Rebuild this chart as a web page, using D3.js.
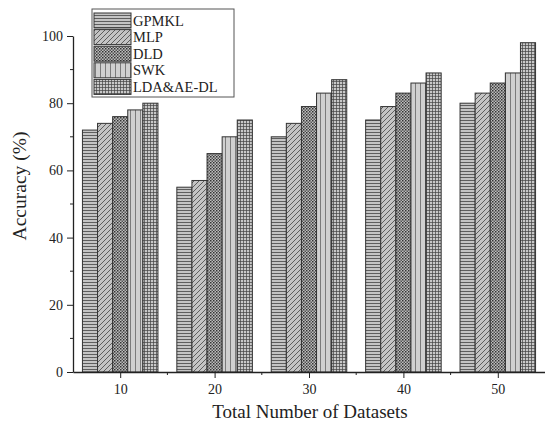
<!DOCTYPE html>
<html>
<head>
<meta charset="utf-8">
<script src="https://cdn.jsdelivr.net/npm/d3@7"></script>
<style>
  body { margin: 0; background: #fff; }
  text { font-family: "Liberation Serif", "DejaVu Serif", serif; fill: #222; }
</style>
</head>
<body>
<div id="chart"></div>
<script>
// Data
const datasets = [10, 20, 30, 40, 50];
const series = ['GPMKL', 'MLP', 'DLD', 'SWK', 'LDA&AE-DL'];
const gpmkl = [72, 55, 70, 75, 80];
const mlp = [74, 57, 74, 79, 83];
const dld = [76, 65, 79, 83, 86];
const swk = [78, 70, 83, 86, 89];
const ldaae = [80, 75, 87, 89, 98];
const values = [gpmkl, mlp, dld, swk, ldaae];
const yTicks = [0, 20, 40, 60, 80, 100];

const W = 545, H = 426;
const margin = { top: 36, right: 0, bottom: 54, left: 73 };

const svg = d3.select('#chart')
  .append('svg')
  .attr('width', W)
  .attr('height', H);

// hatch patterns
const defs = svg.append('defs');
const bg = '#c4c4c4';
const ink = '#444';

function pattern(id, w, h, draw, fill) {
  const p = defs.append('pattern')
    .attr('id', id)
    .attr('patternUnits', 'userSpaceOnUse')
    .attr('width', w)
    .attr('height', h);
  p.append('rect').attr('width', w).attr('height', h).attr('fill', fill || bg);
  draw(p);
}

pattern('p0', 4, 3, p => {
  p.append('line').attr('x1', 0).attr('x2', 4).attr('y1', 0.5).attr('y2', 0.5)
    .attr('stroke', ink).attr('stroke-width', 0.8);
});
pattern('p1', 5, 5, p => {
  p.append('path').attr('d', 'M0,5 L5,0 M-1,1 L1,-1 M4,6 L6,4')
    .attr('stroke', ink).attr('stroke-width', 0.8);
});
pattern('p2', 3, 3, p => {
  p.append('rect').attr('x', 0).attr('y', 0).attr('width', 1.5).attr('height', 1.5).attr('fill', '#333');
  p.append('rect').attr('x', 1.5).attr('y', 1.5).attr('width', 1.5).attr('height', 1.5).attr('fill', '#555');
}, '#bdbdbd');
pattern('p3', 5, 4, p => {
  p.append('line').attr('x1', 0.5).attr('x2', 0.5).attr('y1', 0).attr('y2', 4)
    .attr('stroke', '#666').attr('stroke-width', 0.8);
}, '#d0d0d0');
pattern('p4', 3, 3, p => {
  p.append('path').attr('d', 'M0,0.5 H3 M0.5,0 V3')
    .attr('stroke', ink).attr('stroke-width', 0.7);
}, '#c8c8c8');

const x = d3.scaleLinear()
  .domain([5, 55])
  .range([margin.left, W - margin.right]);

const y = d3.scaleLinear()
  .domain([0, 100])
  .range([372, 36]);

const step = x(20) - x(10);
const inner = d3.scaleBand()
  .domain(series)
  .range([-step * 0.4, step * 0.4]);

// bars
series.forEach((s, i) => {
  svg.append('g')
    .selectAll('rect')
    .data(datasets)
    .enter()
    .append('rect')
    .attr('x', (d) => x(d) + inner(s))
    .attr('width', inner.bandwidth())
    .attr('y', (d, j) => y(values[i][j]))
    .attr('height', (d, j) => y(0) - y(values[i][j]))
    .attr('fill', `url(#p${i})`)
    .attr('stroke', '#333')
    .attr('stroke-width', 1);
});

// x axis
const xAxis = svg.append('g')
  .attr('transform', `translate(0,${y(0)})`)
  .call(d3.axisBottom(x).tickValues(datasets).tickSize(6).tickPadding(6).tickSizeOuter(0));
xAxis.append('g')
  .selectAll('line')
  .data([15, 25, 35, 45])
  .enter()
  .append('line')
  .attr('x1', d => x(d)).attr('x2', d => x(d))
  .attr('y1', 0).attr('y2', 3)
  .attr('stroke', '#222');

// y axis
const yAxis = svg.append('g')
  .attr('transform', `translate(${margin.left},0)`)
  .call(d3.axisLeft(y).tickValues(yTicks).tickSize(6).tickPadding(4).tickSizeOuter(0));
yAxis.append('g')
  .selectAll('line')
  .data([10, 30, 50, 70, 90])
  .enter()
  .append('line')
  .attr('x1', 0).attr('x2', -3)
  .attr('y1', d => y(d)).attr('y2', d => y(d))
  .attr('stroke', '#222');

svg.selectAll('.domain').attr('stroke', '#222').attr('stroke-width', 1.3);
svg.selectAll('.tick line').attr('stroke', '#222');
svg.selectAll('.tick text')
  .style('font-family', '"Liberation Serif", serif')
  .style('font-size', '14px')
  .attr('fill', '#333');

// axis titles
svg.append('text')
  .attr('x', 310)
  .attr('y', 418)
  .attr('text-anchor', 'middle')
  .style('font-size', '19px')
  .text('Total Number of Datasets');

svg.append('text')
  .attr('transform', 'translate(26,186) rotate(-90)')
  .attr('text-anchor', 'middle')
  .style('font-size', '19.5px')
  .text('Accuracy (%)');

// legend
const legend = svg.append('g');
legend.append('rect')
  .attr('x', 92).attr('y', 9)
  .attr('width', 142).attr('height', 88)
  .attr('fill', '#fff')
  .attr('stroke', '#555')
  .attr('stroke-width', 1);

series.forEach((s, i) => {
  const ry = 13 + i * 16.6;
  legend.append('rect')
    .attr('x', 94).attr('y', ry)
    .attr('width', 37).attr('height', 15)
    .attr('fill', `url(#p${i})`)
    .attr('stroke', '#333');
  legend.append('text')
    .attr('x', 133).attr('y', ry + 12.5)
    .style('font-size', '14.5px')
    .attr('fill', '#333')
    .text(s);
});
</script>
</body>
</html>
